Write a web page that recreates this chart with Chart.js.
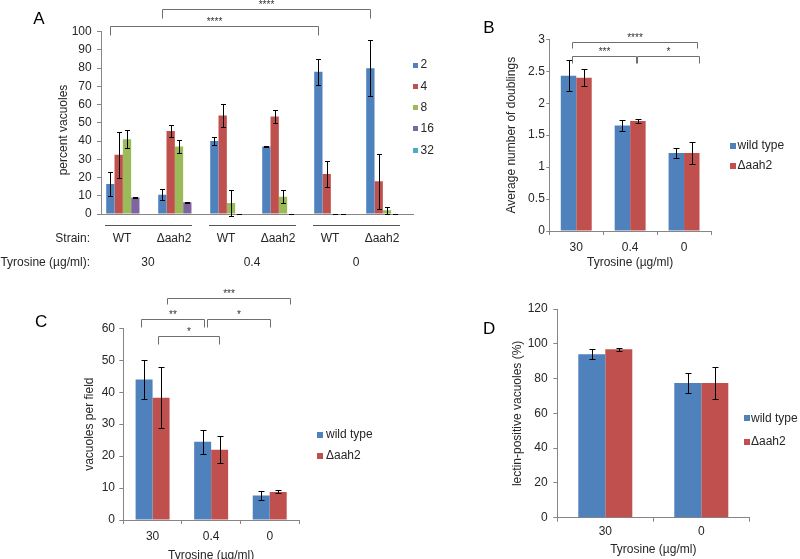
<!DOCTYPE html>
<html><head><meta charset="utf-8">
<script src="https://cdn.jsdelivr.net/npm/chart.js@4.4.0/dist/chart.umd.min.js"></script>
<style>
html,body{margin:0;padding:0;background:#fff;}
#wrap{position:relative;width:800px;height:559px;overflow:hidden;background:#fff;}
#wrap canvas{position:absolute;left:0;top:0;}
</style></head><body>
<div id="wrap">
<canvas id="cA" width="800" height="559"></canvas>
<canvas id="cB" width="800" height="559"></canvas>
<canvas id="cC" width="800" height="559"></canvas>
<canvas id="cD" width="800" height="559"></canvas>
</div>
<script>
// ---------- Panel A data ----------
const strainLabels = ['WT','Δaah2','WT','Δaah2','WT','Δaah2'];
const tyrosineA = ['30','0.4','0'];
const sizeLabels = ['2','4','8','16','32'];
const pct2 = [16.5,10.5,40,37,78,80];
const pct2Err = [6.5,3,2.3,0.4,7,15.5];
const pct4 = [32.5,45.5,54,53.5,22,18];
const pct4Err = [12.5,3.3,6.3,3.5,7,15];
const pct8 = [41,37,6,9.5,0,2];
const pct8Err = [5,3.7,7,3.5,0,2];
const pct16 = [9,6.5,0,0,0,0];
const pct16Err = [0.4,0.2,0,0,0,0];
const pct32 = [0,0,0,0,0,0];
const pct32Err = [null,null,null,null,null,null];

// ---------- Panels B, C, D data ----------
const strainNames = ['wild type','Δaah2'];
const tyrosineB = ['30','0.4','0'];
const doublingsWT = [2.43,1.65,1.22];
const doublingsWTErr = [0.24,0.09,0.075];
const doublingsDel = [2.40,1.72,1.22];
const doublingsDelErr = [0.135,0.035,0.165];

const tyrosineC = ['30','0.4','0'];
const vacWT = [44,24.5,7.7];
const vacWTErr = [6.2,3.7,1.4];
const vacDel = [38.3,22,8.8];
const vacDelErr = [9.6,4.2,0.5];

const tyrosineD = ['30','0'];
const lectinWT = [94,77.5];
const lectinWTErr = [2.8,5.8];
const lectinDel = [96.8,77.5];
const lectinDelErr = [1,9];

// ---------- styles ----------
const FONT = "'Liberation Sans', Arial, sans-serif";
const TXT = '#262626';
const AXIS = '#868686';
const BR = '#6f6f6f';
const PALETTE = ['#4F81BD','#C0504D','#9BBB59','#8064A2','#4BACC6'];

function extras(cfg){
  return {
    id: 'extras',
    afterDatasetsDraw(chart){
      const ctx = chart.ctx, ys = chart.scales.y;
      ctx.save();
      ctx.strokeStyle = '#000'; ctx.lineWidth = 1;
      chart.data.datasets.forEach((ds, di) => {
        if (!ds.errors) return;
        chart.getDatasetMeta(di).data.forEach((bar, i) => {
          const e = ds.errors[i];
          if (e === null || e === undefined) return;
          const v = ds.data[i];
          const x = Math.round(bar.x) + 0.5;
          const yt = Math.round(ys.getPixelForValue(v + e)) + 0.5;
          const yb = Math.round(ys.getPixelForValue(v - e)) + 0.5;
          ctx.beginPath();
          ctx.moveTo(x, yt); ctx.lineTo(x, yb);
          ctx.moveTo(x - cfg.cap, yt); ctx.lineTo(x + cfg.cap, yt);
          ctx.moveTo(x - cfg.cap, yb); ctx.lineTo(x + cfg.cap, yb);
          ctx.stroke();
        });
      });
      ctx.restore();
    },
    afterDraw(chart){
      const ctx = chart.ctx, xs = chart.scales.x, ys = chart.scales.y;
      ctx.save();
      // brackets
      (cfg.brackets || []).forEach(b => {
        const px = idx => b.series !== undefined ? chart.getDatasetMeta(b.series).data[idx].x : xs.getPixelForValue(idx);
        const x1 = Math.round(px(b.from)) + 0.5, x2 = Math.round(px(b.to)) + 0.5;
        const yT = Math.round(ys.getPixelForValue(b.y)) + 0.5;
        const yD = Math.round(ys.getPixelForValue(b.y - b.drop)) + 0.5;
        ctx.strokeStyle = BR; ctx.lineWidth = 1;
        ctx.beginPath();
        ctx.moveTo(x1, yD); ctx.lineTo(x1, yT); ctx.lineTo(x2, yT); ctx.lineTo(x2, yD);
        ctx.stroke();
        ctx.fillStyle = '#333'; ctx.font = '10px ' + FONT;
        ctx.textAlign = 'center'; ctx.textBaseline = 'alphabetic';
        ctx.fillText(b.label, (x1 + x2) / 2, yT - 1.5);
      });
      // legend
      if (cfg.legend) {
        const L = cfg.legend;
        ctx.font = '12px ' + FONT; ctx.textAlign = 'left'; ctx.textBaseline = 'middle';
        chart.data.datasets.forEach((ds, i) => {
          const cy = L.y0 + i * L.dy;
          ctx.fillStyle = ds.backgroundColor;
          ctx.fillRect(L.x, Math.round(cy - L.size / 2), L.size, L.size);
          ctx.fillStyle = TXT;
          ctx.fillText(ds.label, L.tx, cy);
        });
      }
      // panel letter
      if (cfg.letter) {
        ctx.font = '17px ' + FONT; ctx.fillStyle = '#000';
        ctx.textAlign = 'left'; ctx.textBaseline = 'alphabetic';
        ctx.fillText(cfg.letter.text, cfg.letter.x, cfg.letter.y);
      }
      // custom-positioned y title
      if (cfg.yTitleAt) {
        ctx.save();
        ctx.translate(cfg.yTitleAt.x, cfg.yTitleAt.y);
        ctx.rotate(-Math.PI / 2);
        ctx.font = '12px ' + FONT; ctx.fillStyle = TXT;
        ctx.textAlign = 'center'; ctx.textBaseline = 'middle';
        ctx.fillText(cfg.yTitle, 0, 0);
        ctx.restore();
      }
      // panel A rows
      if (cfg.rows) {
        const R = cfg.rows;
        ctx.font = '12px ' + FONT; ctx.fillStyle = TXT; ctx.textBaseline = 'middle';
        ctx.textAlign = 'right';
        ctx.fillText('Strain:', R.labelX, R.strainY);
        ctx.fillText('Tyrosine (µg/ml):', R.labelX, R.tyrY);
        ctx.textAlign = 'center';
        ctx.strokeStyle = '#555'; ctx.lineWidth = 1;
        R.groups.forEach((t, k) => {
          const c = (xs.getPixelForValue(2 * k) + xs.getPixelForValue(2 * k + 1)) / 2 + R.shift;
          ctx.fillText(t, c, R.tyrY);
          ctx.beginPath();
          ctx.moveTo(Math.round(c - R.half), R.lineY + 0.5);
          ctx.lineTo(Math.round(c + R.half), R.lineY + 0.5);
          ctx.stroke();
        });
      }
      ctx.restore();
    }
  };
}

function makeChart(id, cfg){
  return new Chart(document.getElementById(id), {
    type: 'bar',
    data: {
      labels: cfg.labels,
      datasets: cfg.series.map((s, i) => ({
        label: s.label, data: s.data, errors: s.errors,
        backgroundColor: PALETTE[i], borderWidth: 0
      }))
    },
    options: {
      responsive: false, animation: false, devicePixelRatio: 1,
      layout: { padding: cfg.pad },
      plugins: { legend: { display: false }, tooltip: { enabled: false }, title: { display: false } },
      datasets: { bar: { categoryPercentage: cfg.catPct, barPercentage: 1 } },
      scales: {
        x: {
          type: 'category',
          afterFit: s => { s.height = cfg.xH; },
          grid: { display: cfg.xTicks, drawOnChartArea: false, drawTicks: cfg.xTicks, tickLength: 4, color: AXIS, offset: true },
          border: { display: true, color: AXIS, width: 1 },
          ticks: { color: TXT, font: { family: FONT, size: 12 }, padding: cfg.xPad, labelOffset: cfg.xLabelOffset || 0,
                   autoSkip: false, maxRotation: 0, minRotation: 0 },
          title: cfg.xTitle ? { display: true, text: cfg.xTitle, color: TXT, font: { family: FONT, size: 12 },
                   padding: { top: 0, bottom: cfg.xTitlePadB || 0 } } : { display: false }
        },
        y: {
          min: 0, max: cfg.yMax,
          afterFit: s => { s.width = cfg.yW; },
          grid: { display: true, drawOnChartArea: false, drawTicks: true, tickLength: cfg.yTL, color: AXIS },
          border: { display: true, color: AXIS, width: 1 },
          ticks: { stepSize: cfg.yStep, color: TXT, font: { family: FONT, size: 12 }, padding: cfg.yPad,
                   callback: v => String(Math.round(v * 100) / 100) },
          title: { display: !cfg.yTitleAt, text: cfg.yTitle, color: TXT, font: { family: FONT, size: 12 }, padding: 0 }
        }
      }
    },
    plugins: [extras(cfg)]
  });
}

// Panel A
makeChart('cA', {
  labels: strainLabels,
  series: [
    { label: sizeLabels[0], data: pct2, errors: pct2Err },
    { label: sizeLabels[1], data: pct4, errors: pct4Err },
    { label: sizeLabels[2], data: pct8, errors: pct8Err },
    { label: sizeLabels[3], data: pct16, errors: pct16Err },
    { label: sizeLabels[4], data: pct32, errors: pct32Err }
  ],
  pad: { left: 56.8, top: 31.7, right: 387, bottom: 305 },
  yW: 44.2, xH: 40, catPct: 0.8,
  xTicks: false, xPad: 17.3, xLabelOffset: -5,
  yMax: 100, yStep: 10, yTL: 4, yPad: 5.3, yTitle: 'percent vacuoles', yTitleAt: { x: 64, y: 130 },
  cap: 2.5,
  brackets: [
    { from: 0, to: 4, series: 0, y: 103.1, drop: 4.9, label: '****' },
    { from: 1, to: 5, series: 0, y: 112.3, drop: 5, label: '****' }
  ],
  legend: { x: 413, y0: 65, dy: 21.3, size: 5, tx: 420.5 },
  letter: { text: 'A', x: 33.3, y: 24 },
  rows: { labelX: 90, strainY: 238.5, tyrY: 262.7, lineY: 225, groups: tyrosineA, shift: -5, half: 43.5 }
});

// Panel B
makeChart('cB', {
  labels: tyrosineB,
  series: [
    { label: strainNames[0], data: doublingsWT, errors: doublingsWTErr },
    { label: strainNames[1], data: doublingsDel, errors: doublingsDelErr }
  ],
  pad: { left: 504.5, top: 39.3, right: 89, bottom: 289.3 },
  yW: 44.8, xH: 38.7, catPct: 0.574,
  xTicks: true, xPad: 5.1, xTitle: 'Tyrosine (µg/ml)',
  yMax: 3, yStep: 0.5, yTL: 3, yPad: 1.5, yTitle: 'Average number of doublings',
  cap: 3,
  brackets: [
    { from: -0.07, to: 2.235, y: 2.962, drop: 0.1, label: '****' },
    { from: -0.07, to: 1.1, y: 2.739, drop: 0.115, label: '***' },
    { from: 1.135, to: 2.28, y: 2.739, drop: 0.115, label: '*' }
  ],
  legend: { x: 730, y0: 145.7, dy: 20, size: 6, tx: 737.5 },
  letter: { text: 'B', x: 483.3, y: 32.7 }
});

// Panel C
makeChart('cC', {
  labels: tyrosineC,
  series: [
    { label: strainNames[0], data: vacWT, errors: vacWTErr },
    { label: strainNames[1], data: vacDel, errors: vacDelErr }
  ],
  pad: { left: 82.8, top: 328.3, right: 501, bottom: 0 },
  yW: 40.5, xH: 39, catPct: 0.58,
  xTicks: true, xPad: 5.5, xTitle: 'Tyrosine (µg/ml)', xTitlePadB: -3.5,
  yMax: 60, yStep: 10, yTL: 4, yPad: 4.3, yTitle: 'vacuoles per field',
  cap: 3,
  brackets: [
    { from: 0.25, to: 2.35, y: 69.6, drop: 2.1, label: '***' },
    { from: -0.2, to: 0.87, y: 62.8, drop: 2.4, label: '**' },
    { from: 0.93, to: 2.0, y: 62.8, drop: 2.4, label: '*' },
    { from: 0.1, to: 1.14, y: 57.6, drop: 2.5, label: '*' }
  ],
  legend: { x: 317, y0: 435, dy: 20.7, size: 6, tx: 326 },
  letter: { text: 'C', x: 35, y: 326.7 }
});

// Panel D
makeChart('cD', {
  labels: tyrosineD,
  series: [
    { label: strainNames[0], data: lectinWT, errors: lectinWTErr },
    { label: strainNames[1], data: lectinDel, errors: lectinDelErr }
  ],
  pad: { left: 510.8, top: 309, right: 50.7, bottom: 3.5 },
  yW: 46.5, xH: 37.8, catPct: 0.5625,
  xTicks: true, xPad: 2.8, xTitle: 'Tyrosine (µg/ml)', xTitlePadB: -1,
  yMax: 120, yStep: 20, yTL: 4, yPad: 5.6, yTitle: 'lectin-positive vacuoles (%)',
  cap: 3,
  brackets: [],
  legend: { x: 744, y0: 418.3, dy: 23.4, size: 6, tx: 751 },
  letter: { text: 'D', x: 483, y: 334 }
});
</script>
</body></html>
